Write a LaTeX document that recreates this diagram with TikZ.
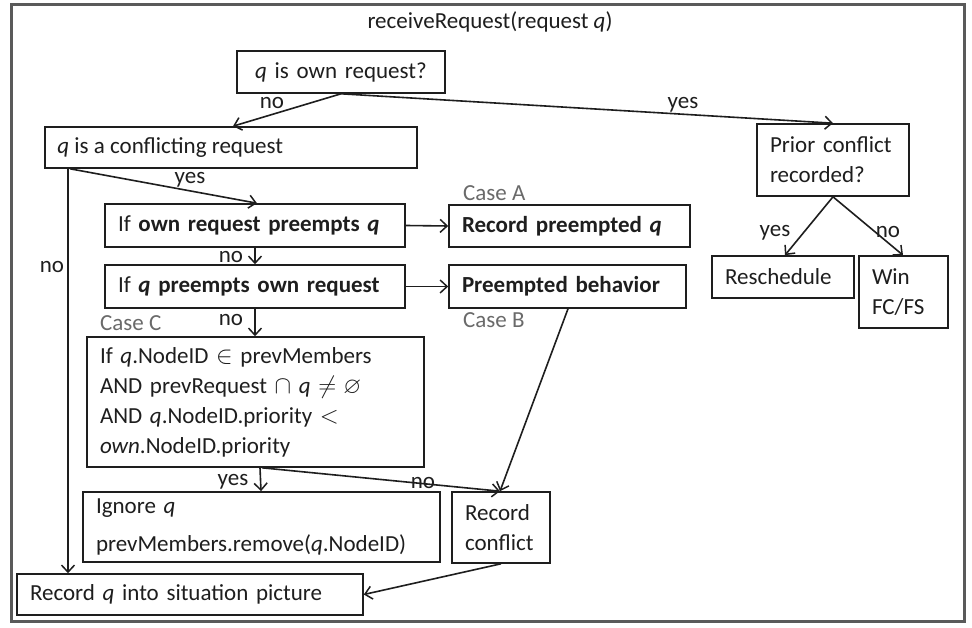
\documentclass[tikz,border=0pt]{standalone}
\usepackage{fontspec}
\usepackage{amssymb}
\setmainfont{Carlito}
\usetikzlibrary{arrows.meta}
\definecolor{ink}{HTML}{1E1E1E}
\definecolor{framec}{HTML}{5A5A5A}
\definecolor{casegray}{HTML}{6A6A6A}
\begin{document}
\begin{tikzpicture}[x=1pt,y=-1pt,
  font=\fontsize{23}{30}\selectfont,
  box/.style={draw=ink, line width=1.6pt, inner xsep=13pt, inner ysep=0pt, align=left, text=ink},
  flow/.style={draw=ink, line width=1.6pt, -{Straight Barb[length=7pt,width=13pt,line width=1.5pt]}},
  lbl/.style={text=ink, inner sep=0pt},
  caselbl/.style={text=casegray, inner sep=0pt, anchor=west}]

\useasboundingbox (0,0) rectangle (972,628);
\fill[white] (0,0) rectangle (972,628);
\draw[framec, line width=3pt] (11,5) rectangle (964,621);

% heading
\node[lbl] (title) at (490,22) {receiveRequest(request \textit{q})};

% decision and action boxes
\node[box, align=center, minimum width=208pt, minimum height=42pt, text width=182pt] (own) at (341,72) {\textit{q} is own request?};
\node[box, minimum width=372pt, minimum height=41pt] (conf) at (231,147.5) {};
\node[lbl, anchor=west] (conftext) at ([xshift=13pt]conf.west) {\textit{q} is a conflicting request};
\node[box, minimum width=300pt, minimum height=43pt, text width=274pt] (ownpre) at (255,225.5) {If \textbf{own request preempts \textit{q}}};
\node[box, minimum width=300pt, minimum height=43pt, text width=274pt] (qpre) at (255,286.5) {If \textbf{\textit{q} preempts own request}};
\node[box, minimum width=241pt, minimum height=42pt, text width=215pt] (recpre) at (569.5,226) {\textbf{Record preempted \textit{q}}};
\node[box, minimum width=237pt, minimum height=43pt, text width=211pt] (preb) at (567.5,286.5) {\textbf{Preempted behavior}};
\node[box, minimum width=152pt, minimum height=72pt, text width=126pt] (prior) at (833,160) {Prior conflict\\recorded?};
\node[box, minimum width=142pt, minimum height=42pt, text width=116pt] (resched) at (783,277) {Reschedule};
\node[box, minimum width=89pt, minimum height=72pt, text width=63pt] (win) at (903.5,292) {Win\\FC/FS};
\node[box, minimum width=337pt, minimum height=130pt, text width=311pt] (condc) at (255.5,402)
  {If \textit{q}.NodeID $\in$ prevMembers\\
   AND prevRequest $\cap$ \textit{q} $\neq \varnothing$\\
   AND \textit{q}.NodeID.priority $<$\\
   \textit{own}.NodeID.priority};
\node[box, minimum width=357pt, minimum height=70pt, text width=331pt] (ignore) at (261.5,527)
  {Ignore \textit{q}\\[8pt]prevMembers.remove(\textit{q}.NodeID)};
\node[box, minimum width=98pt, minimum height=71pt, text width=72pt] (reccon) at (501,527.5) {Record\\conflict};
\node[box, minimum width=346pt, minimum height=41pt, text width=320pt] (recq) at (190,594.5) {Record \textit{q} into situation picture};

% case captions
\node[caselbl] (casea) at (463,193) {Case A};
\node[caselbl] (caseb) at (463,320) {Case B};
\node[caselbl] (casecl) at (100,323) {Case C};

% connectors
\draw[flow] (own.south) -- (233,0 |- conf.north);
\draw[flow] (own.south) -- (prior.north);
\draw[flow] (70,0 |- conf.south) -- (257,0 |- ownpre.north);
\draw[flow] (68,0 |- conf.south) -- (68,0 |- recq.north);
\draw[flow] (ownpre.south) -- (qpre.north);
\draw[flow] (qpre.south) -- (255,0 |- condc.north);
\draw[flow] (ownpre.east) -- (recpre.west);
\draw[flow] (qpre.east) -- (preb.west);
\draw[flow] (prior.south) -- (785,0 |- resched.north);
\draw[flow] (prior.south) -- (903,0 |- win.north);
\draw[flow] (260,0 |- condc.south) -- (261,0 |- ignore.north);
\draw[flow] (262,0 |- condc.south) -- (500,0 |- reccon.north);
\draw[flow] (568,0 |- preb.south) -- (500,0 |- reccon.north);
\draw[flow] (reccon.south) -- (recq.east);

% branch labels
\node[lbl] (l1) at (272,103) {no};
\node[lbl] (l2) at (683,105) {yes};
\node[lbl] (l3) at (190,180) {yes};
\node[lbl] (l4) at (52,267) {no};
\node[lbl] (l5) at (231,257) {no};
\node[lbl] (l6) at (231,320) {no};
\node[lbl] (l7) at (775,233) {yes};
\node[lbl] (l8) at (888,232) {no};
\node[lbl] (l9) at (233,482) {yes};
\node[lbl] (l10) at (423,483) {no};
\end{tikzpicture}
\end{document}
